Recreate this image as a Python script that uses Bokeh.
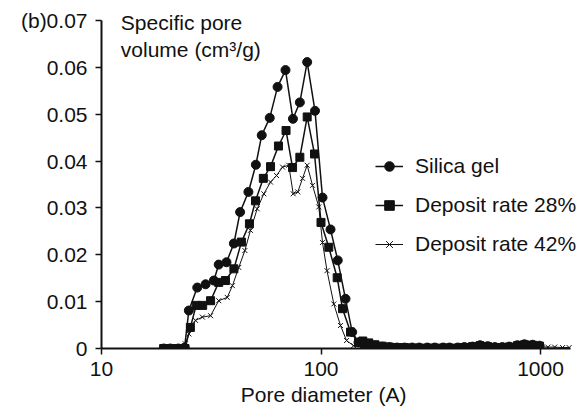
from bokeh.plotting import figure
from bokeh.models import FixedTicker, Legend, LegendItem, Label, Range1d
from bokeh.embed import file_html
from bokeh.resources import INLINE

# ---- data (pore diameter in Angstrom, specific pore volume in cm3/g) ----
silica_d = [19.2, 20.6, 22.4, 23.9, 25.0, 27.3, 29.8, 32.5, 34.2, 37.1, 40.1, 42.8,
            46.7, 50.5, 53.7, 58.4, 63.4, 68.9, 74.5, 80.1, 86.5, 93.9, 101.6,
            110.5, 119.2, 129.3, 138.7, 148.2]
silica_v = [0.0, 0.0, 0.0, 0.0002, 0.0081, 0.0130, 0.0137, 0.0145, 0.0179, 0.0184,
            0.0224, 0.0291, 0.0334, 0.0392, 0.0455, 0.0492, 0.0558, 0.0594, 0.0490,
            0.0525, 0.0611, 0.0507, 0.0322, 0.0254, 0.0188, 0.0106, 0.0035, 0.0013]

dep28_d = [19.2, 20.6, 22.4, 24.0, 25.4, 27.0, 28.9, 31.4, 34.2, 36.7, 40.1, 43.4,
           47.2, 50.3, 54.6, 58.9, 64.0, 69.3, 74.2, 80.1, 86.5, 93.4, 100.0,
           108.5, 118.5, 125.3, 136.3, 148.2]
dep28_v = [0.0, 0.0, 0.0, 0.0, 0.0045, 0.0092, 0.0092, 0.0102, 0.0141, 0.0145,
           0.0170, 0.0227, 0.0266, 0.0315, 0.0363, 0.0388, 0.0432, 0.0465, 0.0386,
           0.0408, 0.0494, 0.0415, 0.0269, 0.0216, 0.0151, 0.0085, 0.0035, 0.0013]

dep42_d = [19.2, 20.6, 22.4, 24.1, 25.0, 26.8, 28.8, 31.4, 34.2, 37.4, 39.5, 42.2,
           45.0, 47.7, 51.2, 54.9, 58.9, 62.7, 66.8, 71.3, 74.7, 78.4, 82.4, 86.5,
           91.5, 97.7, 101.6, 106.5, 114.4, 122.7, 130.7, 140.7]
dep42_v = [0.0, 0.0, 0.0, 0.0010, 0.0031, 0.0060, 0.0067, 0.0070, 0.0102, 0.0109,
           0.0134, 0.0173, 0.0209, 0.0252, 0.0298, 0.0330, 0.0355, 0.0369, 0.0387,
           0.0391, 0.0330, 0.0334, 0.0363, 0.0391, 0.0348, 0.0302, 0.0226, 0.0166,
           0.0095, 0.0049, 0.0017, 0.0006]

tail_d = [155, 165, 176, 190, 205, 222, 240, 260, 280, 305, 330, 360, 385, 420, 450,
          490, 530, 575, 620, 670, 720, 785, 845, 920, 990]
tail_d_long = [1080, 1160, 1260, 1350]
silica_tail = [0.0010, 0.0008, 0.0006, 0.0004, 0.0003, 0.0002, 0.0002, 0.0002, 0.0002,
               0.0002, 0.0002, 0.0002, 0.0002, 0.0002, 0.0003, 0.0004, 0.0007, 0.0005,
               0.0003, 0.0003, 0.0004, 0.0007, 0.0009, 0.0008, 0.0006]
dep28_tail = [0.0016, 0.0012, 0.0008, 0.0005, 0.0003, 0.0002, 0.0002, 0.0001, 0.0001,
              0.0001, 0.0001, 0.0001, 0.0001, 0.0001, 0.0002, 0.0004, 0.0006, 0.0004,
              0.0002, 0.0002, 0.0003, 0.0006, 0.0008, 0.0007, 0.0005]
dep42_tail = [0.0006, 0.0005, 0.0004, 0.0003, 0.0002, 0.0002, 0.0001, 0.0001, 0.0001,
              0.0001, 0.0001, 0.0001, 0.0001, 0.0001, 0.0002, 0.0003, 0.0005, 0.0003,
              0.0002, 0.0002, 0.0003, 0.0005, 0.0006, 0.0005, 0.0004, 0.0003, 0.0003,
              0.0002, 0.0002]

x_ticks = [10, 100, 1000]
x_tick_labels = ["10", "100", "1000"]
y_ticks = [0, 0.01, 0.02, 0.03, 0.04, 0.05, 0.06, 0.07]
y_tick_labels = ["0", "0.01", "0.02", "0.03", "0.04", "0.05", "0.06", "(b)0.07"]

series_names = ["Silica gel", "Deposit rate 28%", "Deposit rate 42%"]
x_title = "Pore diameter (A)"

FONT = "Liberation Sans"
FS = "21px"
INK = "#111111"

p = figure(x_axis_type="log", x_range=Range1d(10, 1620), y_range=Range1d(0, 0.0736),
           frame_width=485, frame_height=345,
           min_border_left=101, min_border_right=0, min_border_top=3, min_border_bottom=60,
           output_backend="svg", toolbar_location=None)
p.outline_line_color = None
p.grid.visible = False
p.background_fill_color = "white"

for ax in (p.xaxis[0], p.yaxis[0]):
    ax.axis_line_width = 2
    ax.axis_line_color = INK
    ax.major_tick_line_width = 1.5
    ax.major_tick_line_color = INK
    ax.major_tick_out = 6
    ax.major_tick_in = 0
    ax.minor_tick_out = 0
    ax.minor_tick_in = 0
    ax.major_label_text_font = FONT
    ax.major_label_text_font_size = FS
    ax.major_label_text_color = INK

p.xaxis.ticker = FixedTicker(ticks=x_ticks, minor_ticks=[])
p.xaxis.major_label_overrides = {t: s for t, s in zip(x_ticks, x_tick_labels)}
p.xaxis.major_label_standoff = 7
p.xaxis.bounds = (10, 1370)
# trailing no-break spaces shift the centred title left onto the visible axis span
p.xaxis.axis_label = x_title + "\u00a0" * 7
p.xaxis.axis_label_text_font = FONT
p.xaxis.axis_label_text_font_size = FS
p.xaxis.axis_label_text_font_style = "normal"
p.xaxis.axis_label_text_color = INK
p.xaxis.axis_label_standoff = 4

p.yaxis.ticker = FixedTicker(ticks=y_ticks, minor_ticks=[])
p.yaxis.major_label_overrides = {t: s for t, s in zip(y_ticks, y_tick_labels)}
p.yaxis.major_label_standoff = 8
p.yaxis.bounds = (0, 0.07)

l1 = p.line(silica_d + tail_d, silica_v + silica_tail, line_color=INK, line_width=1.5)
s1 = p.scatter(silica_d + tail_d, silica_v + silica_tail, marker="circle", size=9,
               fill_color=INK, line_color=INK)
l2 = p.line(dep28_d + tail_d, dep28_v + dep28_tail, line_color=INK, line_width=1.5)
s2 = p.scatter(dep28_d + tail_d, dep28_v + dep28_tail, marker="square", size=8,
               fill_color=INK, line_color=INK)
l3 = p.line(dep42_d + tail_d + tail_d_long, dep42_v + dep42_tail, line_color=INK, line_width=1)
s3 = p.scatter(dep42_d + tail_d + tail_d_long, dep42_v + dep42_tail, marker="x", size=7,
               line_color=INK, line_width=1)

legend = Legend(items=[LegendItem(label=series_names[0], renderers=[l1, s1]),
                       LegendItem(label=series_names[1], renderers=[l2, s2]),
                       LegendItem(label=series_names[2], renderers=[l3, s3])],
                location=(274, 92), padding=0, margin=0, spacing=15,
                glyph_width=28, glyph_height=24, label_height=24, label_standoff=12,
                label_text_font=FONT, label_text_font_size=FS, label_text_color=INK,
                background_fill_alpha=0, border_line_alpha=0)
p.add_layout(legend)

p.add_layout(Label(x=12.25, y=0.06716, text="Specific pore", text_font=FONT,
                   text_font_size=FS, text_color=INK))
p.add_layout(Label(x=12.25, y=0.06125, text="volume (cm³/g)", text_font=FONT,
                   text_font_size=FS, text_color=INK))

open("out.html", "w").write(file_html(p, INLINE))
